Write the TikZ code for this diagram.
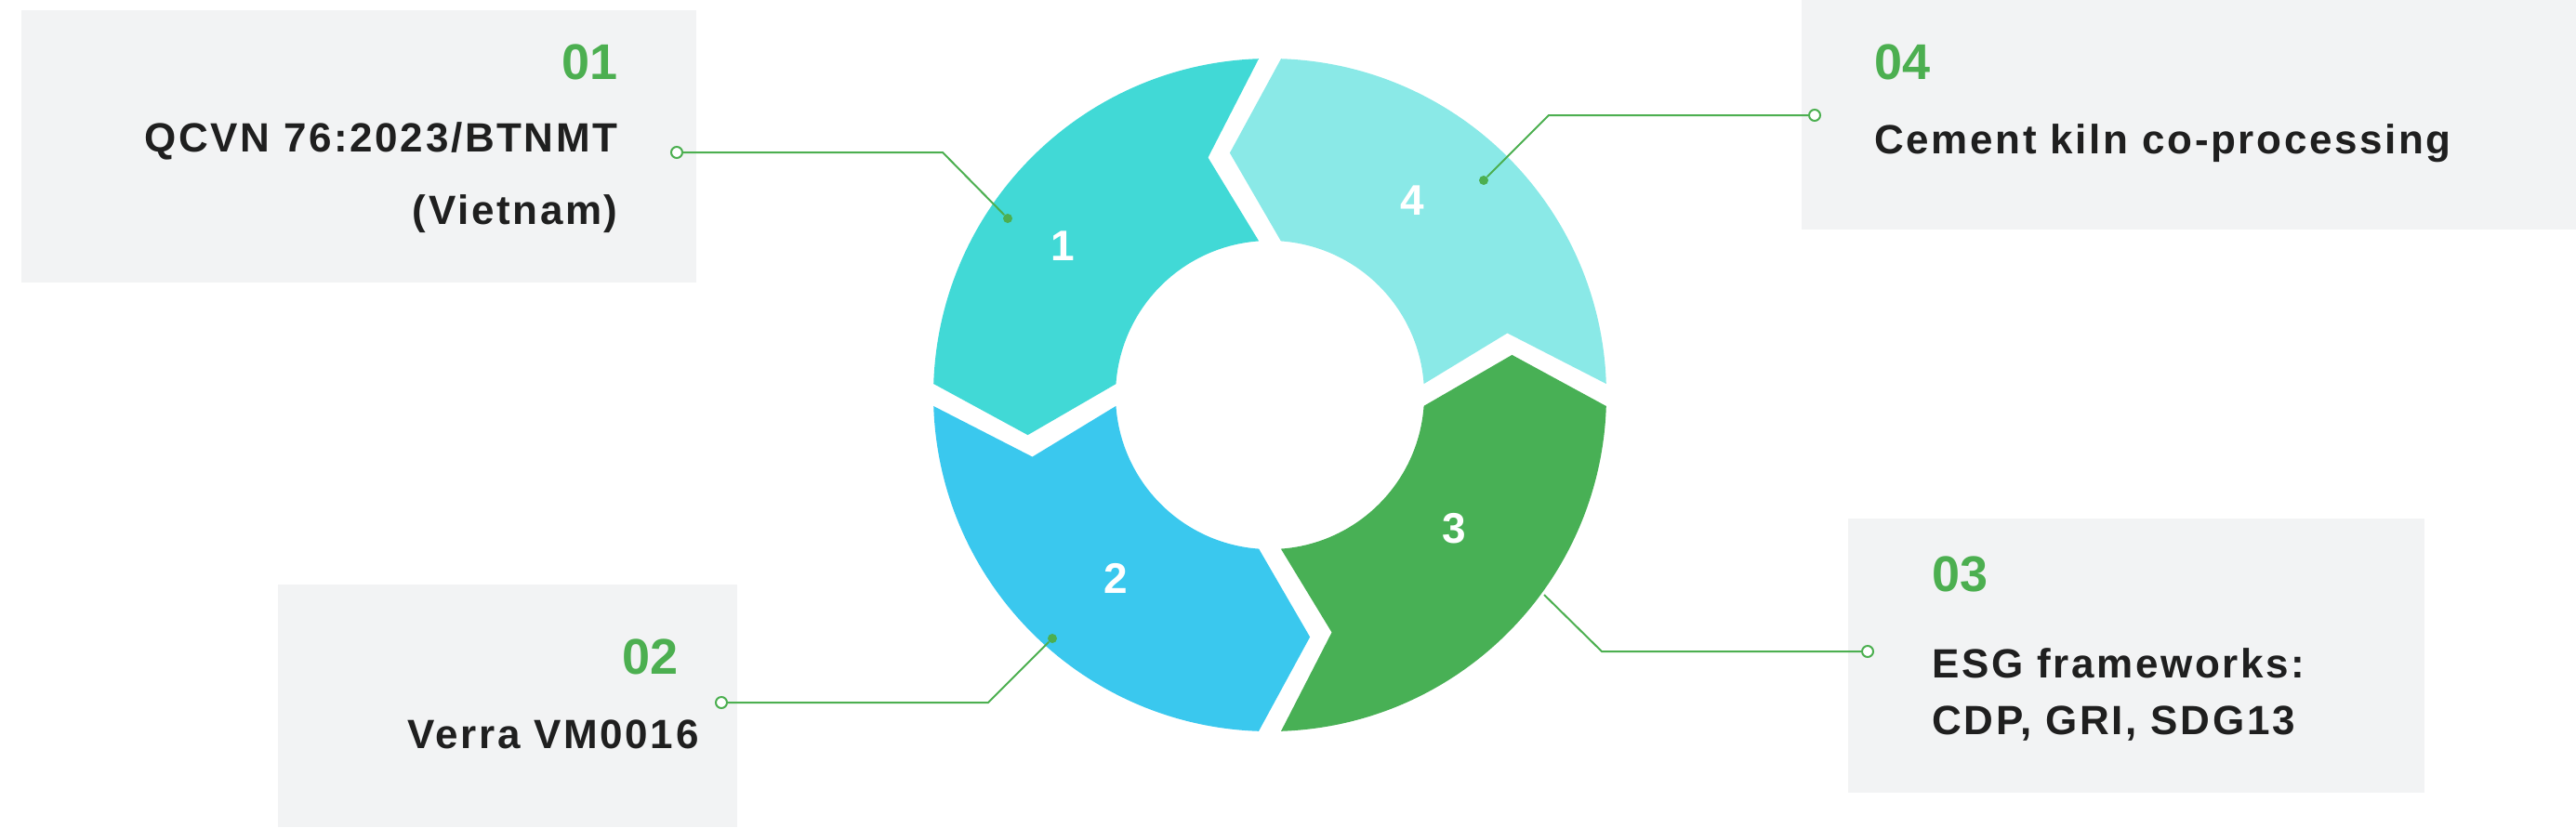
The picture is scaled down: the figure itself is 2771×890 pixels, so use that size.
\documentclass[tikz,border=0pt]{standalone}
\usepackage{fontspec}
\setmainfont{Liberation Sans}
\newfontfamily\lblfont[LetterSpace=6]{Liberation Sans}
\definecolor{boxgray}{HTML}{F2F3F4}
\definecolor{numgreen}{HTML}{4CAF50}
\definecolor{segA}{HTML}{41D9D6}
\definecolor{segB}{HTML}{3AC8EE}
\definecolor{segC}{HTML}{48B055}
\definecolor{segD}{HTML}{8AE9E7}
\tikzset{
  infobox/.style={fill=boxgray,draw=none},
  bignum/.style={text=numgreen,font=\fontsize{27}{30}\selectfont\bfseries,inner sep=0},
  lbl/.style={text=black!88,font=\lblfont\fontsize{22}{26}\selectfont\bfseries,inner sep=0},
  segnum/.style={text=white,font=\fontsize{23}{26}\selectfont\bfseries,inner sep=0},
  conn/.style={draw=numgreen,line width=1pt},
  endring/.style={circle,draw=numgreen,fill=white,line width=1pt,inner sep=0,minimum size=6pt},
  enddot/.style={circle,fill=numgreen,inner sep=0,minimum size=5pt},
}
\newcommand{\ringseg}[3]{%
  \fill[#3] (#1+1.9:362) arc[start angle=#1+1.9,end angle=#2-1.9,radius=362]
    -- (#2+12-2.6:264) -- (#2-4.1:166)
    arc[start angle=#2-4.1,end angle=#1+4.1,radius=166]
    -- (#1+12+2.6:264) -- cycle;}
\begin{document}
\begin{tikzpicture}[x=0.5pt,y=-0.5pt]
\useasboundingbox (0,0) rectangle (2771,890);
% boxes
\fill[infobox] (23,11) rectangle (749,304);
\fill[infobox] (299,629) rectangle (793,890);
\fill[infobox] (1988,558) rectangle (2608,853);
\fill[infobox] (1938,0) rectangle (2771,247);
% texts
\node[bignum,anchor=east] (n1) at (665,67) {01};
\node[lbl,anchor=east] (t1a) at (665,152) {QCVN 76:2023/BTNMT};
\node[lbl,anchor=east] (t1b) at (665,230) {(Vietnam)};
\node[bignum,anchor=east] (n2) at (730,707) {02};
\node[lbl,anchor=east] (t2) at (752,790) {Verra VM0016};
\node[bignum,anchor=west] (n3) at (2078,618) {03};
\node[lbl,anchor=west] (t3a) at (2078,714) {ESG frameworks:};
\node[lbl,anchor=west] (t3b) at (2078,779) {CDP, GRI, SDG13};
\node[bignum,anchor=west] (n4) at (2016,67) {04};
\node[lbl,anchor=west] (t4) at (2016,154) {Cement kiln co-processing};
% connector 3 (under ring)
\node[endring] (e3) at (2009,701) {};
\coordinate (c3) at (1723,701);
\coordinate (d3) at (1661,640);
\draw[conn] (e3) -- (c3) -- (d3);
% ring
\begin{scope}[shift={(1366,425)},yscale=-1]
\ringseg{0}{90}{segD}
\ringseg{90}{180}{segA}
\ringseg{180}{270}{segB}
\ringseg{270}{360}{segC}
\end{scope}
\node[segnum] (s1) at (1143,265) {1};
\node[segnum] (s2) at (1200,622) {2};
\node[segnum] (s3) at (1564,569) {3};
\node[segnum] (s4) at (1519,216) {4};
% connectors
\node[endring] (e1) at (728,164) {};
\coordinate (c1) at (1014,164);
\node[enddot] (d1) at (1084,235) {};
\draw[conn] (e1) -- (c1) -- (d1);
\node[endring] (e2) at (776,756) {};
\coordinate (c2) at (1063,756);
\node[enddot] (d2) at (1132,687) {};
\draw[conn] (e2) -- (c2) -- (d2);
\node[endring] (e4) at (1952,124) {};
\coordinate (c4) at (1666,124);
\node[enddot] (d4) at (1596,194) {};
\draw[conn] (e4) -- (c4) -- (d4);
\end{tikzpicture}
\end{document}
